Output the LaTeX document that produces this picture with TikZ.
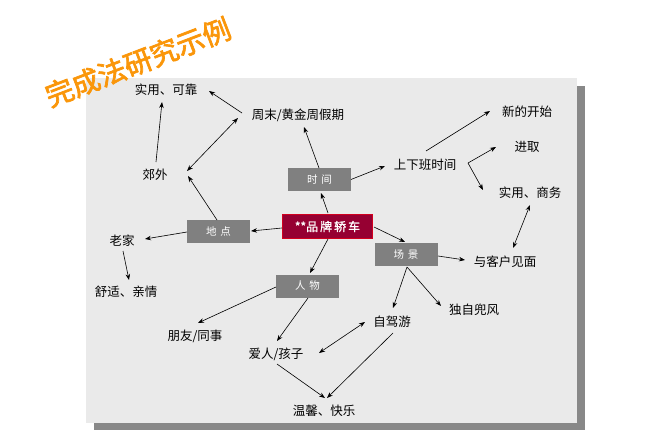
\documentclass[tikz,border=0pt]{standalone}
\usepackage{fontspec}
\usetikzlibrary{arrows.meta}
\newfontfamily\cjk{Noto Sans CJK SC}
\newfontfamily\cjkb[FakeBold=1.5]{Noto Sans CJK SC}
\newfontfamily\cjkt[FakeBold=2.5]{Noto Sans CJK SC}
\definecolor{bggray}{RGB}{234,234,234}
\definecolor{shgray}{RGB}{136,136,136}
\definecolor{boxgray}{RGB}{128,128,128}
\definecolor{brandred}{RGB}{150,0,50}
\definecolor{brandedge}{RGB}{210,0,30}
\definecolor{titleor}{RGB}{250,150,10}
\begin{document}
\begin{tikzpicture}[x=1pt,y=-1pt,
  lbl/.style={font=\cjk\fontsize{12.5}{12.5}\selectfont, inner sep=0pt},
  gbox/.style={fill=boxgray, minimum width=63pt, minimum height=23pt, inner sep=0pt,
    text=white, font=\cjk\fontsize{10.5}{10.5}\selectfont},
  arr/.style={-{Stealth[length=6pt,width=4.5pt]}, line width=0.6pt},
  darr/.style={{Stealth[length=6pt,width=4.5pt]}-{Stealth[length=6pt,width=4.5pt]}, line width=0.6pt}]
\useasboundingbox (0,0) rectangle (646,431);
% panel with shadow
\fill[shgray] (94,86) rectangle (585,430);
\fill[bggray] (86,78) rectangle (577,423);
% title
\node[rotate=21, text=titleor, font=\cjkt\fontsize{28}{28}\selectfont, inner sep=0pt] (title) at (138,62) {完成法研究示例};
% text labels
\node[lbl] (A) at (166,90) {实用、可靠};
\node[lbl] (B) at (298,115) {周末/黄金周假期};
\node[lbl] (C) at (155,175) {郊外};
\node[lbl] (U) at (425,165) {上下班时间};
\node[lbl] (N) at (527,112) {新的开始};
\node[lbl] (J) at (527,147) {进取};
\node[lbl] (Sw) at (530,193) {实用、商务};
\node[lbl] (K) at (505,262) {与客户见面};
\node[lbl] (L) at (122,241) {老家};
\node[lbl] (F) at (126,292) {舒适、亲情};
\node[lbl] (Fr) at (195,336) {朋友/同事};
\node[lbl] (Ai) at (276,354) {爱人/孩子};
\node[lbl] (W) at (324,411) {温馨、快乐};
\node[lbl] (Z) at (392,322) {自驾游};
\node[lbl] (Du) at (474,310) {独自兜风};
% boxes
\node[gbox] (T) at (319.5,179.5) {时\hspace{4pt}间};
\node[gbox] (D) at (218.5,231.5) {地\hspace{4pt}点};
\node[gbox] (S) at (406,254.5) {场\hspace{4pt}景};
\node[gbox] (R) at (307.5,286) {人\hspace{4pt}物};
\node[fill=brandred, draw=brandedge, line width=0.8pt, minimum width=90pt, minimum height=24pt,
  inner sep=0pt, text=white, font=\cjkb\fontsize{12}{12}\selectfont] (P) at (327.5,226.5) {**品\,牌\,轿\,车};
% connectors
\draw[arr] ([shift={(1,-13)}]C.center) -- ([shift={(-4,12)}]A.center);
\draw[arr] ([shift={(-56,-2)}]B.center) -- ([shift={(43,1)}]A.center);
\draw[darr] ([shift={(-60,3)}]B.center) -- ([shift={(32,-4)}]C.center);
\draw[arr] ([shift={(-1.5,-11.5)}]D.center) -- ([shift={(33,1)}]C.center);
\draw[arr] ([shift={(-0.5,-11.5)}]T.center) -- ([shift={(6,12)}]B.center);
\draw[arr] ([shift={(0.5,-13.5)}]P.center) -- ([shift={(1.5,13.5)}]T.center);
\draw[arr] ([shift={(31.5,0)}]T.center) -- ([shift={(-40,1)}]U.center);
\draw[arr] ([shift={(1,-14)}]U.center) -- ([shift={(-37,-1)}]N.center);
\draw[arr] ([shift={(43,-2)}]U.center) -- ([shift={(-31,0)}]J.center);
\draw[arr] ([shift={(43,-2)}]U.center) -- ([shift={(-47,-3)}]Sw.center);
\draw[darr] ([shift={(0,12)}]Sw.center) -- ([shift={(8,-14)}]K.center);
\draw[arr] ([shift={(46.5,0.5)}]P.center) -- ([shift={(-1,-12.5)}]S.center);
\draw[arr] ([shift={(32,1.5)}]S.center) -- ([shift={(-40,-2)}]K.center);
\draw[arr] ([shift={(1,12.5)}]S.center) -- ([shift={(1,-14)}]Z.center);
\draw[arr] ([shift={(1,12.5)}]S.center) -- ([shift={(-33,-4)}]Du.center);
\draw[arr] ([shift={(-45.5,1.5)}]P.center) -- ([shift={(32.5,-0.5)}]D.center);
\draw[arr] ([shift={(-31.5,0.5)}]D.center) -- ([shift={(23,-2)}]L.center);
\draw[arr] ([shift={(1,10)}]L.center) -- ([shift={(3,-12)}]F.center);
\draw[arr] ([shift={(0.5,12.5)}]P.center) -- ([shift={(2.5,-13)}]R.center);
\draw[arr] ([shift={(-31.5,1)}]R.center) -- ([shift={(3,-13)}]Fr.center);
\draw[arr] ([shift={(0.5,12)}]R.center) -- ([shift={(1,-13)}]Ai.center);
\draw[darr] ([shift={(-27,0)}]Z.center) -- ([shift={(43,-1)}]Ai.center);
\draw[arr] ([shift={(1,10)}]Ai.center) -- ([shift={(1,-13)}]W.center);
\draw[arr] ([shift={(1,11)}]Z.center) -- ([shift={(3,-13)}]W.center);
\end{tikzpicture}
\end{document}
